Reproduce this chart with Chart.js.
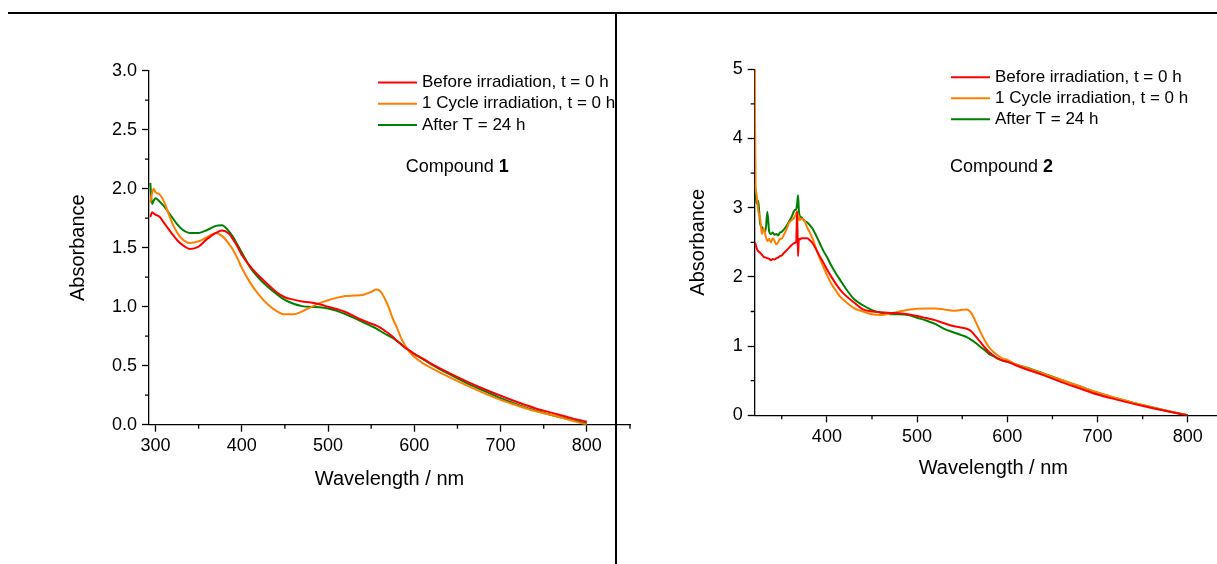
<!DOCTYPE html>
<html>
<head>
<meta charset="utf-8">
<script src="https://cdn.jsdelivr.net/npm/chart.js@4.4.1/dist/chart.umd.min.js"></script>
<style>
  html, body { margin: 0; padding: 0; background: #fff; width: 1217px; height: 564px; overflow: hidden; position: relative; }
  .panel { position: absolute; top: 0; height: 564px; }
  #panel1 { left: 0; width: 640px; }
  #panel2 { left: 617px; width: 615px; }
  .rule-top { position: absolute; left: 8px; top: 12px; width: 1209px; height: 2px; background: #000; z-index: 5; }
  .rule-mid { position: absolute; left: 615px; top: 12px; width: 2px; height: 552px; background: #000; z-index: 5; }
</style>
</head>
<body>
<div class="panel" id="panel1"><canvas id="chart1" width="640" height="564"></canvas></div>
<div class="panel" id="panel2"><canvas id="chart2" width="615" height="564"></canvas></div>
<div class="rule-top"></div>
<div class="rule-mid"></div>

<script>
// ========================================
// Data
// ========================================

const seriesLabels = ['Before irradiation, t = 0 h', '1 Cycle irradiation, t = 0 h', 'After T = 24 h'];
const seriesColors = ['#ff0000', '#ff8000', '#008000'];

// --- Compound 1 ---
const wl1 = [294, 296, 298, 300, 305, 310, 315, 320, 325, 330, 340, 350, 360, 370, 377, 385, 390, 395, 400,
  410, 420, 430, 440, 450, 460, 470, 480, 490, 500, 510, 520, 530, 540, 550, 556, 560, 565, 570, 575,
  580, 585, 590, 595, 600, 610, 620, 640, 660, 680, 700, 720, 740, 760, 780, 800];
const before1 = [1.76, 1.80, 1.79, 1.78, 1.76, 1.71, 1.66, 1.61, 1.565, 1.53, 1.49, 1.51, 1.575, 1.625, 1.645, 1.62, 1.57, 1.51, 1.44,
  1.34, 1.26, 1.19, 1.125, 1.08, 1.06, 1.045, 1.035, 1.02, 1.0, 0.98, 0.955, 0.92, 0.885, 0.855, 0.84, 0.825, 0.80, 0.775, 0.745,
  0.71, 0.68, 0.65, 0.625, 0.60, 0.56, 0.515, 0.44, 0.37, 0.305, 0.245, 0.19, 0.14, 0.10, 0.06, 0.025];
const cycle1 = [1.88, 1.96, 2.0, 1.97, 1.95, 1.89, 1.79, 1.70, 1.63, 1.58, 1.54, 1.555, 1.59, 1.625, 1.60, 1.535, 1.48, 1.41, 1.33,
  1.20, 1.10, 1.02, 0.965, 0.935, 0.935, 0.96, 0.995, 1.03, 1.055, 1.075, 1.09, 1.095, 1.10, 1.125, 1.145, 1.135, 1.08, 1.0, 0.90,
  0.82, 0.73, 0.665, 0.61, 0.575, 0.52, 0.48, 0.405, 0.335, 0.27, 0.21, 0.16, 0.115, 0.08, 0.04, 0.0];
const after1 = [2.05, 1.87, 1.90, 1.92, 1.89, 1.85, 1.80, 1.75, 1.70, 1.66, 1.625, 1.625, 1.65, 1.685, 1.69, 1.64, 1.59, 1.525, 1.46,
  1.33, 1.24, 1.17, 1.11, 1.057, 1.025, 1.005, 0.998, 0.995, 0.985, 0.965, 0.937, 0.905, 0.87, 0.835, 0.815, 0.797, 0.775, 0.755, 0.735,
  0.71, 0.68, 0.65, 0.627, 0.60, 0.555, 0.51, 0.43, 0.355, 0.29, 0.225, 0.17, 0.12, 0.08, 0.045, 0.01];

// --- Compound 2 ---
const wl2 = [320, 321, 322, 324, 326, 328, 330, 332, 334, 336, 338, 340, 342, 344, 346, 348, 350, 352, 355, 358,
  361, 364, 366, 367, 368, 369, 370, 372, 375, 378, 381, 384, 388, 392, 396, 400, 405, 410, 415, 420,
  430, 440, 450, 460, 470, 480, 490, 500, 510, 520, 530, 540, 550, 555, 560, 565, 570, 575, 580, 585,
  590, 595, 600, 610, 620, 640, 660, 680, 700, 720, 740, 760, 780, 800];
const before2 = [2.5, 2.47, 2.42, 2.37, 2.35, 2.32, 2.29, 2.28, 2.27, 2.26, 2.24, 2.26, 2.25, 2.27, 2.28, 2.30, 2.31, 2.34, 2.38, 2.42,
  2.46, 2.49, 2.51, 2.94, 2.30, 2.55, 2.54, 2.56, 2.56, 2.56, 2.53, 2.49, 2.40, 2.30, 2.21, 2.11, 2.0, 1.9, 1.81, 1.74,
  1.63, 1.53, 1.50, 1.49, 1.48, 1.475, 1.46, 1.435, 1.405, 1.375, 1.33, 1.29, 1.265, 1.25, 1.215, 1.14, 1.06, 0.98, 0.91, 0.86,
  0.82, 0.79, 0.775, 0.72, 0.67, 0.58, 0.48, 0.39, 0.30, 0.23, 0.165, 0.105, 0.05, 0.0];
const cycle2 = [5.0, 3.35, 3.2, 2.95, 2.85, 2.62, 2.7, 2.6, 2.52, 2.55, 2.5, 2.56, 2.52, 2.47, 2.5, 2.55, 2.55, 2.6, 2.68, 2.78,
  2.82, 2.86, 2.92, 2.95, 2.82, 2.88, 2.82, 2.84, 2.82, 2.72, 2.64, 2.56, 2.41, 2.27, 2.15, 2.03, 1.9, 1.8, 1.71, 1.65,
  1.55, 1.50, 1.46, 1.45, 1.47, 1.50, 1.525, 1.54, 1.545, 1.545, 1.53, 1.51, 1.525, 1.53, 1.48, 1.35, 1.21, 1.08, 0.98, 0.91,
  0.86, 0.82, 0.80, 0.735, 0.69, 0.60, 0.51, 0.42, 0.33, 0.25, 0.18, 0.115, 0.055, 0.0];
const after2 = [3.35, 3.2, 3.06, 3.1, 2.77, 2.72, 2.68, 2.66, 2.94, 2.66, 2.62, 2.64, 2.61, 2.62, 2.60, 2.64, 2.65, 2.68, 2.73, 2.80,
  2.87, 2.96, 2.98, 3.05, 3.18, 2.95, 2.88, 2.86, 2.81, 2.79, 2.75, 2.70, 2.60, 2.49, 2.38, 2.29, 2.16, 2.05, 1.95, 1.85,
  1.68, 1.59, 1.52, 1.48, 1.46, 1.46, 1.45, 1.41, 1.37, 1.32, 1.25, 1.20, 1.155, 1.13, 1.09, 1.045, 0.99, 0.94, 0.885, 0.85,
  0.815, 0.79, 0.775, 0.73, 0.695, 0.605, 0.51, 0.42, 0.325, 0.25, 0.18, 0.115, 0.055, 0.0];

// --- Axis ticks ---
const xTicks1 = [300, 400, 500, 600, 700, 800];
const xMinor1 = [350, 450, 550, 650, 750, 850];
const yTicks1 = [0, 0.5, 1.0, 1.5, 2.0, 2.5, 3.0];
const yMinor1 = [0.25, 0.75, 1.25, 1.75, 2.25, 2.75];

const xTicks2 = [400, 500, 600, 700, 800];
const xMinor2 = [350, 450, 550, 650, 750, 850];
const yTicks2 = [0, 1, 2, 3, 4, 5];
const yMinor2 = [0.5, 1.5, 2.5, 3.5, 4.5];

// ========================================
// Helpers / plugins
// ========================================

const FONT = 'Arial, "Liberation Sans", Helvetica, sans-serif';

function toPoints(xs, ys) {
  return xs.map((x, i) => ({ x, y: ys[i] }));
}

// small outward ticks between the labelled ones
const minorTicks = {
  id: 'minorTicks',
  afterDraw(chart, args, opts) {
    const ctx = chart.ctx;
    const xs = chart.scales.x;
    const ys = chart.scales.y;
    ctx.save();
    ctx.strokeStyle = '#000';
    ctx.lineWidth = 1.3;
    ctx.beginPath();
    opts.x.forEach(v => {
      const p = xs.getPixelForValue(v);
      ctx.moveTo(p, xs.top);
      ctx.lineTo(p, xs.top + 4);
    });
    opts.y.forEach(v => {
      const p = ys.getPixelForValue(v);
      ctx.moveTo(ys.right, p);
      ctx.lineTo(ys.right - 4, p);
    });
    ctx.stroke();
    ctx.restore();
  }
};

// legend rows + "Compound N" caption inside the plot
const panelText = {
  id: 'panelText',
  afterDraw(chart, args, opts) {
    const ctx = chart.ctx;
    ctx.save();
    ctx.textBaseline = 'middle';
    ctx.textAlign = 'left';
    ctx.fillStyle = '#000';
    ctx.font = `17px ${FONT}`;
    chart.data.datasets.forEach((ds, i) => {
      const y = opts.legendY + i * opts.rowGap;
      ctx.strokeStyle = ds.borderColor;
      ctx.lineWidth = 2;
      ctx.beginPath();
      ctx.moveTo(opts.legendX, y);
      ctx.lineTo(opts.legendX + 39, y);
      ctx.stroke();
      ctx.fillText(ds.label, opts.legendX + 44, y);
    });
    ctx.font = `18px ${FONT}`;
    ctx.fillText('Compound ', opts.labelX, opts.labelY);
    const w = ctx.measureText('Compound ').width;
    ctx.font = `bold 18px ${FONT}`;
    ctx.fillText(opts.compound, opts.labelX + w, opts.labelY);
    ctx.restore();
  }
};

function makeChart(id, cfg) {
  const datasets = cfg.series.map((vals, i) => ({
    label: seriesLabels[i],
    data: toPoints(cfg.wl, vals),
    borderColor: seriesColors[i],
    borderWidth: 2,
    pointRadius: 0,
    cubicInterpolationMode: 'monotone',
    fill: false
  }));

  return new Chart(document.getElementById(id), {
    type: 'line',
    data: { datasets },
    options: {
      responsive: false,
      animation: false,
      devicePixelRatio: 1,
      layout: { padding: cfg.padding },
      scales: {
        x: {
          type: 'linear',
          min: cfg.xMin,
          max: cfg.xMax,
          afterBuildTicks: s => { s.ticks = cfg.xTicks.map(v => ({ value: v })); },
          afterFit: s => { s.height = 80; },
          ticks: { color: '#000', font: { family: FONT, size: 18 }, padding: 4, maxRotation: 0, autoSkip: false },
          grid: { drawOnChartArea: false, drawTicks: true, tickLength: 7, tickColor: '#000', tickWidth: 1.3 },
          border: { display: true, color: '#000', width: 1.3 },
          title: { display: true, text: 'Wavelength / nm', color: '#000', font: { family: FONT, size: 20 }, padding: { top: 0, bottom: cfg.xTitlePad } }
        },
        y: {
          type: 'linear',
          min: 0,
          max: cfg.yMax,
          afterBuildTicks: s => { s.ticks = cfg.yTicks.map(v => ({ value: v })); },
          afterFit: s => { s.width = cfg.yWidth; },
          ticks: { color: '#000', font: { family: FONT, size: 18 }, padding: 5, callback: cfg.yFormat },
          grid: { drawOnChartArea: false, drawTicks: true, tickLength: 7, tickColor: '#000', tickWidth: 1.3 },
          border: { display: true, color: '#000', width: 1.3 },
          title: { display: true, text: 'Absorbance', color: '#000', font: { family: FONT, size: 20 }, padding: { top: cfg.yTitlePad, bottom: 0 } }
        }
      },
      plugins: {
        legend: { display: false },
        tooltip: { enabled: false },
        minorTicks: { x: cfg.xMinor, y: cfg.yMinor },
        panelText: cfg.text
      }
    },
    plugins: [minorTicks, panelText]
  });
}

// ========================================
// Panels
// ========================================

makeChart('chart1', {
  wl: wl1,
  series: [before1, cycle1, after1],
  xMin: 292.5, xMax: 850, xTicks: xTicks1, xMinor: xMinor1,
  yMax: 3.0, yTicks: yTicks1, yMinor: yMinor1, yFormat: v => v.toFixed(1),
  padding: { left: 0, right: 10, top: 70.7, bottom: 59.3 },
  yWidth: 149, yTitlePad: 66.3, xTitlePad: 13.4,
  text: { legendX: 378, legendY: 82.5, rowGap: 21.3, labelX: 405.7, labelY: 167, compound: '1' }
});

makeChart('chart2', {
  wl: wl2,
  series: [before2, cycle2, after2],
  xMin: 320, xMax: 849, xTicks: xTicks2, xMinor: xMinor2,
  yMax: 5, yTicks: yTicks2, yMinor: yMinor2, yFormat: v => String(v),
  padding: { left: 0, right: 0, top: 69.3, bottom: 68.7 },
  yWidth: 137.7, yTitlePad: 69.3, xTitlePad: 15,
  text: { legendX: 334, legendY: 77.3, rowGap: 21, labelX: 333, labelY: 167, compound: '2' }
});
</script>
</body>
</html>
